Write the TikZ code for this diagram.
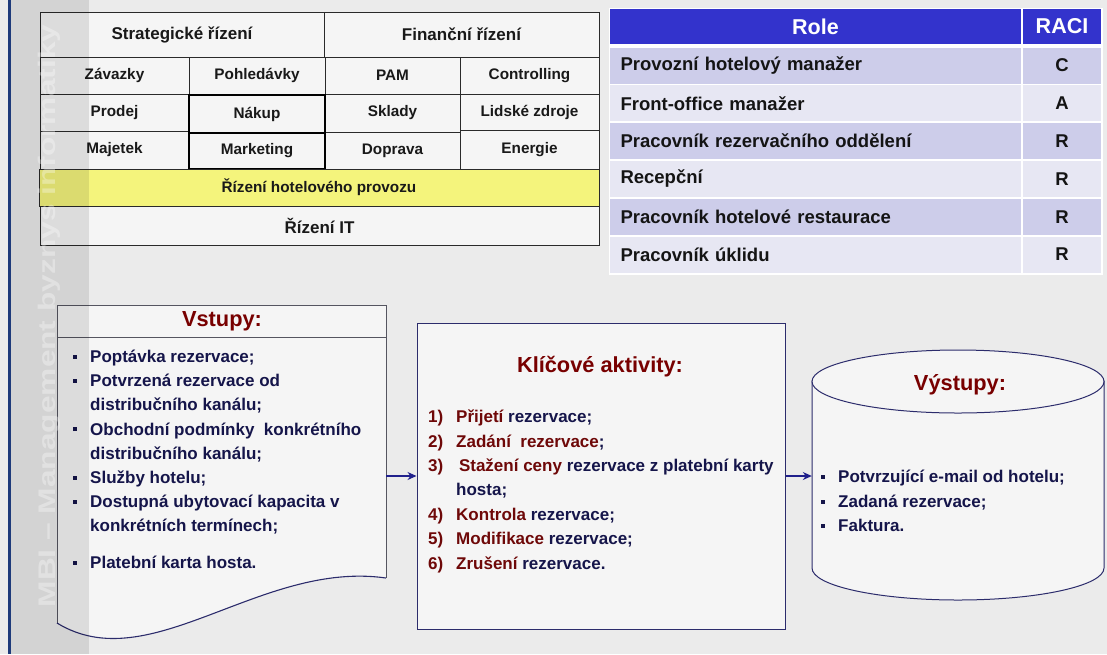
\documentclass[tikz,border=0pt]{standalone}
\usepackage{fontspec}
\setmainfont{Liberation Sans}
\usetikzlibrary{arrows.meta}

\definecolor{pagebg}{HTML}{EBEBEB}
\definecolor{cellfill}{HTML}{F5F5F5}
\definecolor{gridline}{HTML}{2A2A2A}
\definecolor{hotelyellow}{HTML}{F4F47C}
\definecolor{racihead}{HTML}{3333CC}
\definecolor{rowdark}{HTML}{CDCDEA}
\definecolor{rowlight}{HTML}{E7E7F3}
\definecolor{titlered}{HTML}{780000}
\definecolor{itemred}{HTML}{6E0808}
\definecolor{inknavy}{HTML}{15154A}
\definecolor{framenavy}{HTML}{2C2C6C}
\definecolor{arrownavy}{HTML}{20208C}
\definecolor{sidebar}{HTML}{1E3A7A}
\definecolor{docgray}{HTML}{555560}

\newcommand{\pxfont}[1]{\fontsize{#1}{#1}\selectfont\bfseries}
\newcommand{\sqbullet}{\rule[4pt]{4pt}{4pt}\hspace{13pt}}
\newcommand{\itemno}[1]{\textcolor{itemred}{\makebox[28pt][l]{#1}}}
\newcommand{\red}[1]{\textcolor{itemred}{#1}}

\begin{document}
\begin{tikzpicture}[x=1pt, y=-1pt,
  cell/.style={draw=gridline, line width=0.9pt, fill=cellfill, inner sep=0pt,
    font=\pxfont{15.3}, text=black!90},
  headcell/.style={cell, font=\pxfont{17}},
  strongcell/.style={cell, draw=black, line width=1.3pt},
  racitop/.style={fill=racihead, inner sep=0pt, minimum height=35pt,
    text=white, font=\pxfont{21.5}},
  racirole/.style={inner sep=0pt, inner xsep=10.5pt, minimum width=411pt,
    minimum height=36pt, text width=390pt, align=left,
    font=\pxfont{18.5}, text=black!92},
  raciletter/.style={inner sep=0pt, minimum width=78pt, minimum height=36pt,
    font=\pxfont{18.5}, text=black!92},
  txtline/.style={anchor=base west, inner sep=0pt, font=\pxfont{17}, text=inknavy},
  boxtitle/.style={inner sep=0pt, font=\pxfont{21.8}, text=titlered},
  flow/.style={-{Stealth[length=9pt,width=8pt]}, draw=arrownavy, line width=1.1pt},
  frame/.style={draw=framenavy, line width=1pt, fill=cellfill}]

% page
\useasboundingbox (0,0) rectangle (1107,654);
\fill[pagebg] (0,0) rectangle (1107,654);

% ---------- process map ----------
\node[headcell, minimum width=284pt, minimum height=45pt] (strat) at (182,34.5) {Strategické řízení};
\node[headcell, minimum width=275pt, minimum height=45pt] (fin) at (461.5,34.5) {Finanční řízení};

\node[cell, minimum width=149pt, minimum height=37pt] (zav) at (114.5,75.5) {Závazky};
\node[cell, minimum width=136pt, minimum height=37pt] (pohl) at (257,75.5) {Pohledávky};
\node[cell, minimum width=135pt, minimum height=37pt] (pam) at (392.5,75.5) {PAM};
\node[cell, minimum width=139pt, minimum height=37pt] (contr) at (529.5,75.5) {Controlling};

\node[cell, minimum width=149pt, minimum height=37pt] (prodej) at (114.5,112.5) {Prodej};
\node[cell, minimum width=149pt, minimum height=38pt] (majetek) at (114.5,150) {Majetek};
\node[cell, minimum width=135pt, minimum height=38pt] (sklady) at (392.5,113) {Sklady};
\node[cell, minimum width=135pt, minimum height=37pt] (doprava) at (392.5,150.5) {Doprava};
\node[cell, minimum width=139pt, minimum height=36pt] (lidske) at (529.5,112) {Lidské zdroje};
\node[cell, minimum width=139pt, minimum height=39pt] (energie) at (529.5,149.5) {Energie};
\node[strongcell, minimum width=136pt, minimum height=38pt] (nakup) at (257,114) {Nákup};
\node[strongcell, minimum width=136pt, minimum height=36pt] (mkt) at (257,151) {Marketing};

\node[cell, fill=hotelyellow, minimum width=560pt, minimum height=37pt] (provoz) at (319,187.5) {Řízení hotelového provozu};
\node[headcell, minimum width=559pt, minimum height=39pt] (it) at (319.5,225.5) {Řízení IT};

% ---------- RACI table ----------
\fill[white] (608.5,7.5) rectangle (1102.5,274.5);
\node[racitop, minimum width=411pt] (role) at (815.5,26.5) {Role};
\node[racitop, minimum width=78pt] (raci) at (1062,26.5) {RACI};

\node[racirole, fill=rowdark] (r1) at (815.5,65.5) {Provozní hotelový manažer};
\node[raciletter, fill=rowdark] (l1) at (1062,65.5) {C};
\node[racirole, fill=rowlight] (r2) at (815.5,103.3) {Front-office manažer};
\node[raciletter, fill=rowlight] (l2) at (1062,103.3) {A};
\node[racirole, fill=rowdark] (r3) at (815.5,141.1) {Pracovník rezervačního oddělení};
\node[raciletter, fill=rowdark] (l3) at (1062,141.1) {R};
\node[racirole, fill=rowlight] (r4) at (815.5,178.9) {Recepční};
\node[raciletter, fill=rowlight] (l4) at (1062,178.9) {R};
\node[racirole, fill=rowdark] (r5) at (815.5,216.7) {Pracovník hotelové restaurace};
\node[raciletter, fill=rowdark] (l5) at (1062,216.7) {R};
\node[racirole, fill=rowlight] (r6) at (815.5,254.5) {Pracovník úklidu};
\node[raciletter, fill=rowlight] (l6) at (1062,254.5) {R};

% ---------- inputs (document shape) ----------
\node[inner sep=0pt, minimum width=329pt, minimum height=273pt] (vst) at (221.5,441.5) {};
\path[fill=cellfill] (57,305) -- (386,305) -- (386,578)
  .. controls (260,560) and (150,680) .. (57,623) -- cycle;
\draw[docgray, line width=1pt] (57,623) -- (57,305) -- (386,305) -- (386,578);
\draw[framenavy, line width=1.1pt] (386,578) .. controls (260,560) and (150,680) .. (57,623);
\draw[docgray, line width=1pt] (57,337) -- (386,337);
\node[boxtitle] (vsttitle) at (222,321) {Vstupy:};

\node[txtline] (in1) at (73,362.5) {\sqbullet Poptávka rezervace;};
\node[txtline] (in2) at (73,386.7) {\sqbullet Potvrzená rezervace od};
\node[txtline] (in3) at (90,410.9) {distribučního kanálu;};
\node[txtline] (in4) at (73,435.1) {\sqbullet Obchodní podmínky\ \ konkrétního};
\node[txtline] (in5) at (90,459.3) {distribučního kanálu;};
\node[txtline] (in6) at (73,483.5) {\sqbullet Služby hotelu;};
\node[txtline] (in7) at (73,507.7) {\sqbullet Dostupná ubytovací kapacita v};
\node[txtline] (in8) at (90,531.9) {konkrétních termínech;};
\node[txtline] (in9) at (73,568.5) {\sqbullet Platební karta hosta.};

% ---------- key activities ----------
\node[frame, inner sep=0pt, minimum width=368pt, minimum height=306pt] (akt) at (601,476) {};
\node[boxtitle] (akttitle) at (600,367) {Klíčové aktivity:};

\node[txtline] (k1) at (428,422.5) {\itemno{1)}\red{Přijetí} rezervace;};
\node[txtline] (k2) at (428,447) {\itemno{2)}\red{Zadání\ \ rezervace};};
\node[txtline] (k3) at (428,471) {\itemno{3)}\,\red{Stažení ceny} rezervace z platební karty};
\node[txtline] (k3b) at (456,495.5) {hosta;};
\node[txtline] (k4) at (428,520) {\itemno{4)}\red{Kontrola} rezervace;};
\node[txtline] (k5) at (428,544.5) {\itemno{5)}\red{Modifikace} rezervace;};
\node[txtline] (k6) at (428,569) {\itemno{6)}\red{Zrušení} rezervace.};

% ---------- outputs (cylinder) ----------
\node[inner sep=0pt, minimum width=292pt, minimum height=250pt] (vyst) at (958,476) {};
\filldraw[fill=cellfill, draw=framenavy, line width=1pt]
  (812,381) -- (812,568) arc[start angle=180, end angle=360, x radius=146pt, y radius=32pt]
  -- (1104,381) -- cycle;
\filldraw[fill=cellfill, draw=framenavy, line width=1pt]
  (958,381.5) ellipse [x radius=146pt, y radius=31.5pt];
\node[boxtitle] (vysttitle) at (960,385) {Výstupy:};

\node[txtline] (out1) at (821,482.5) {\sqbullet Potvrzující e-mail od hotelu;};
\node[txtline] (out2) at (821,507.5) {\sqbullet Zadaná rezervace;};
\node[txtline] (out3) at (821,531.5) {\sqbullet Faktura.};

% ---------- flow ----------
\draw[flow] (vst.east |- akt.west) -- (akt.west);
\draw[flow] (akt.east) -- (vyst.west |- akt.east);

% ---------- side band with title ----------
\fill[sidebar] (7.5,0) rectangle (10.5,654);
\fill[black, opacity=0.1] (10.5,0) rectangle (89,654);
\node[rotate=90, inner sep=0pt, text=white, text opacity=0.33, font=\pxfont{24}] (wm)
  at (49,316) {\scalebox{1.32}[1]{MBI – Management byznys informatiky}};

\end{tikzpicture}
\end{document}
